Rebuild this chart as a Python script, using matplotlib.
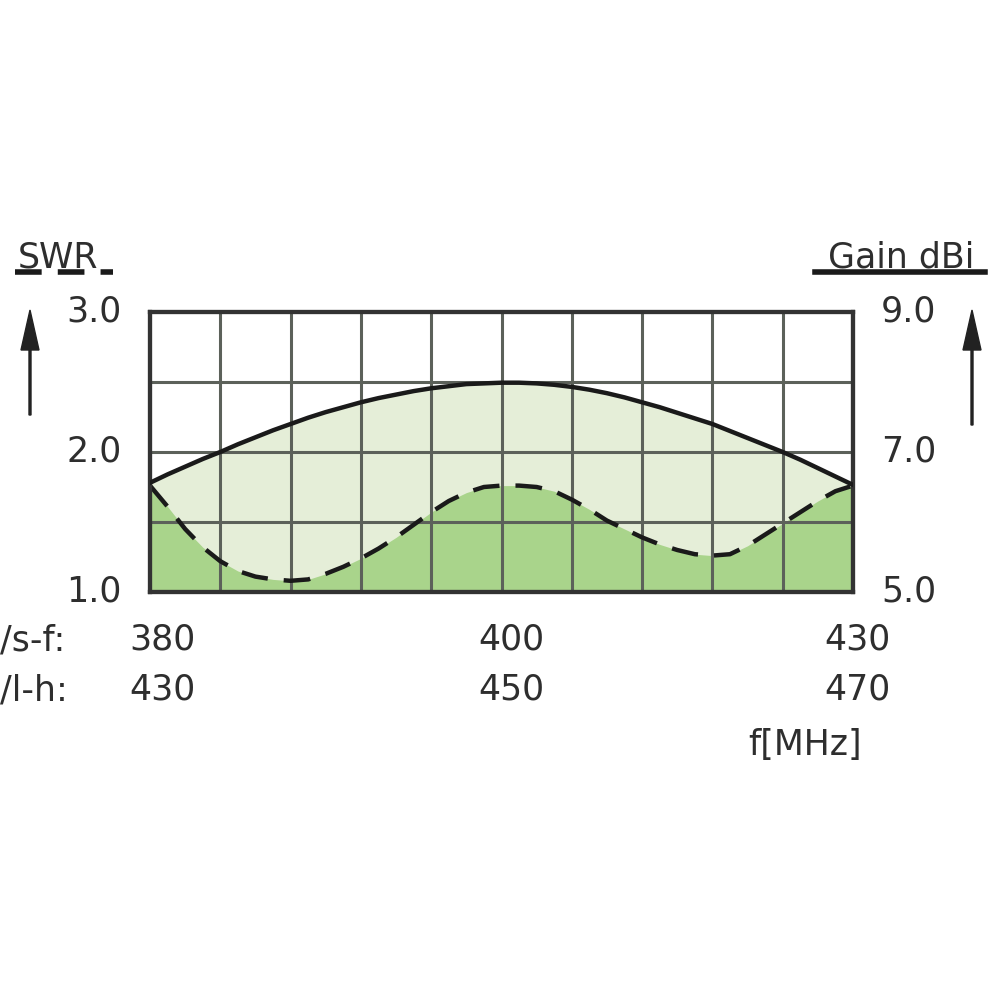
import matplotlib; matplotlib.use("Agg")
import matplotlib.pyplot as plt
from matplotlib.patches import FancyArrow

INK = "#2e2e2e"; GRID = "#5c615a"; LIGHT = "#e5eed8"; DARK = "#a9d48b"

# grid position along the band (0..10 columns), read at quarter-column steps
pos = [i * 0.25 for i in range(41)]
gain_dbi = [6.56, 6.68, 6.79, 6.90, 7.00, 7.11, 7.21, 7.31, 7.40, 7.49, 7.57,
            7.64, 7.71, 7.77, 7.82, 7.87, 7.91, 7.94, 7.97, 7.98, 7.99,
            7.99, 7.98, 7.96, 7.93, 7.89, 7.84, 7.78, 7.71, 7.64, 7.56,
            7.48, 7.40, 7.30, 7.20, 7.10, 7.00, 6.89, 6.77, 6.65, 6.53]
swr = [1.76, 1.61, 1.45, 1.32, 1.22, 1.15, 1.11, 1.09, 1.08, 1.09, 1.13,
       1.18, 1.24, 1.31, 1.39, 1.48, 1.57, 1.65, 1.71, 1.75, 1.76,
       1.76, 1.75, 1.72, 1.66, 1.59, 1.51, 1.45, 1.39, 1.34, 1.30,
       1.27, 1.26, 1.27, 1.33, 1.41, 1.49, 1.57, 1.65, 1.72, 1.76]

tick_pos = [0, 5, 10]
band_sf = ["380", "400", "430"]
band_lh = ["430", "450", "470"]
swr_ticks = [1.0, 2.0, 3.0]
gain_ticks = [5.0, 7.0, 9.0]

fig = plt.figure(figsize=(10, 10), dpi=100)
ax = fig.add_axes([0.150, 0.408, 0.703, 0.280])
ax.set_xlim(0, 10); ax.set_ylim(1.0, 3.0)
axg = ax.twinx(); axg.set_ylim(5.0, 9.0)

# gain curve mapped to the SWR scale so both fills sit in one axes
gain_on_swr = [1.0 + (g - 5.0) / 2.0 for g in gain_dbi]
ax.fill_between(pos, 1.0, gain_on_swr, color=LIGHT, lw=0, zorder=1)
ax.fill_between(pos, 1.0, swr, color=DARK, lw=0, zorder=1.5)

for xv in range(1, 10):
    ax.axvline(xv, color=GRID, lw=2.2, zorder=2)
for yv in [1.5, 2.0, 2.5]:
    ax.axhline(yv, color=GRID, lw=2.2, zorder=2)

axg.plot(pos, gain_dbi, color="#1a1a1a", lw=3.2, zorder=4, solid_joinstyle="round")
ax.plot(pos, swr, color="#1a1a1a", lw=3.2, ls=(0, (6.0, 3.6)), zorder=4)

for a in (ax, axg):
    a.set_xticks([]); a.set_yticks([])
    for s in a.spines.values():
        s.set_color("#333333"); s.set_linewidth(3)

fs = 25
for v in swr_ticks:
    ax.text(-0.40, v, f"{v:.1f}", ha="right", va="center", fontsize=fs, color=INK, clip_on=False)
for v in gain_ticks:
    axg.text(10.40, v, f"{v:.1f}", ha="left", va="center", fontsize=fs, color=INK, clip_on=False)

# band labels under the grid
fig.text(0.0, 0.360, "/s-f:", ha="left", va="center", fontsize=fs, color=INK)
fig.text(0.0, 0.310, "/l-h:", ha="left", va="center", fontsize=fs, color=INK)
for p, a_, b_ in zip(tick_pos, band_sf, band_lh):
    xf = 0.150 + 0.703 * p / 10 + (0.012 if p == 0 else 0.010 if p == 5 else 0.004)
    fig.text(xf, 0.360, a_, ha="center", va="center", fontsize=fs, color=INK)
    fig.text(xf, 0.310, b_, ha="center", va="center", fontsize=fs, color=INK)
fig.text(0.862, 0.255, "f[MHz]", ha="right", va="center", fontsize=fs, color=INK)

# axis titles with underline (dashed for SWR, solid for gain)
fig.text(0.018, 0.743, "SWR", ha="left", va="center", fontsize=fs, color=INK)
fig.add_artist(plt.Line2D([0.015, 0.113], [0.728, 0.728], color="#1a1a1a", lw=4,
                          ls=(0, (4.8, 2.9)), solid_capstyle="butt"))
fig.text(0.974, 0.743, "Gain dBi", ha="right", va="center", fontsize=fs, color=INK)
fig.add_artist(plt.Line2D([0.815, 0.985], [0.728, 0.728], color="#1a1a1a", lw=4))

# upward arrows beside the value scales
fig.add_artist(FancyArrow(0.030, 0.585, 0, 0.105, width=0.002, head_width=0.018,
                          head_length=0.04, length_includes_head=True, color="#222222"))
fig.add_artist(FancyArrow(0.972, 0.575, 0, 0.115, width=0.002, head_width=0.018,
                          head_length=0.04, length_includes_head=True, color="#222222"))

fig.savefig("out.png", dpi=100, facecolor="white")
